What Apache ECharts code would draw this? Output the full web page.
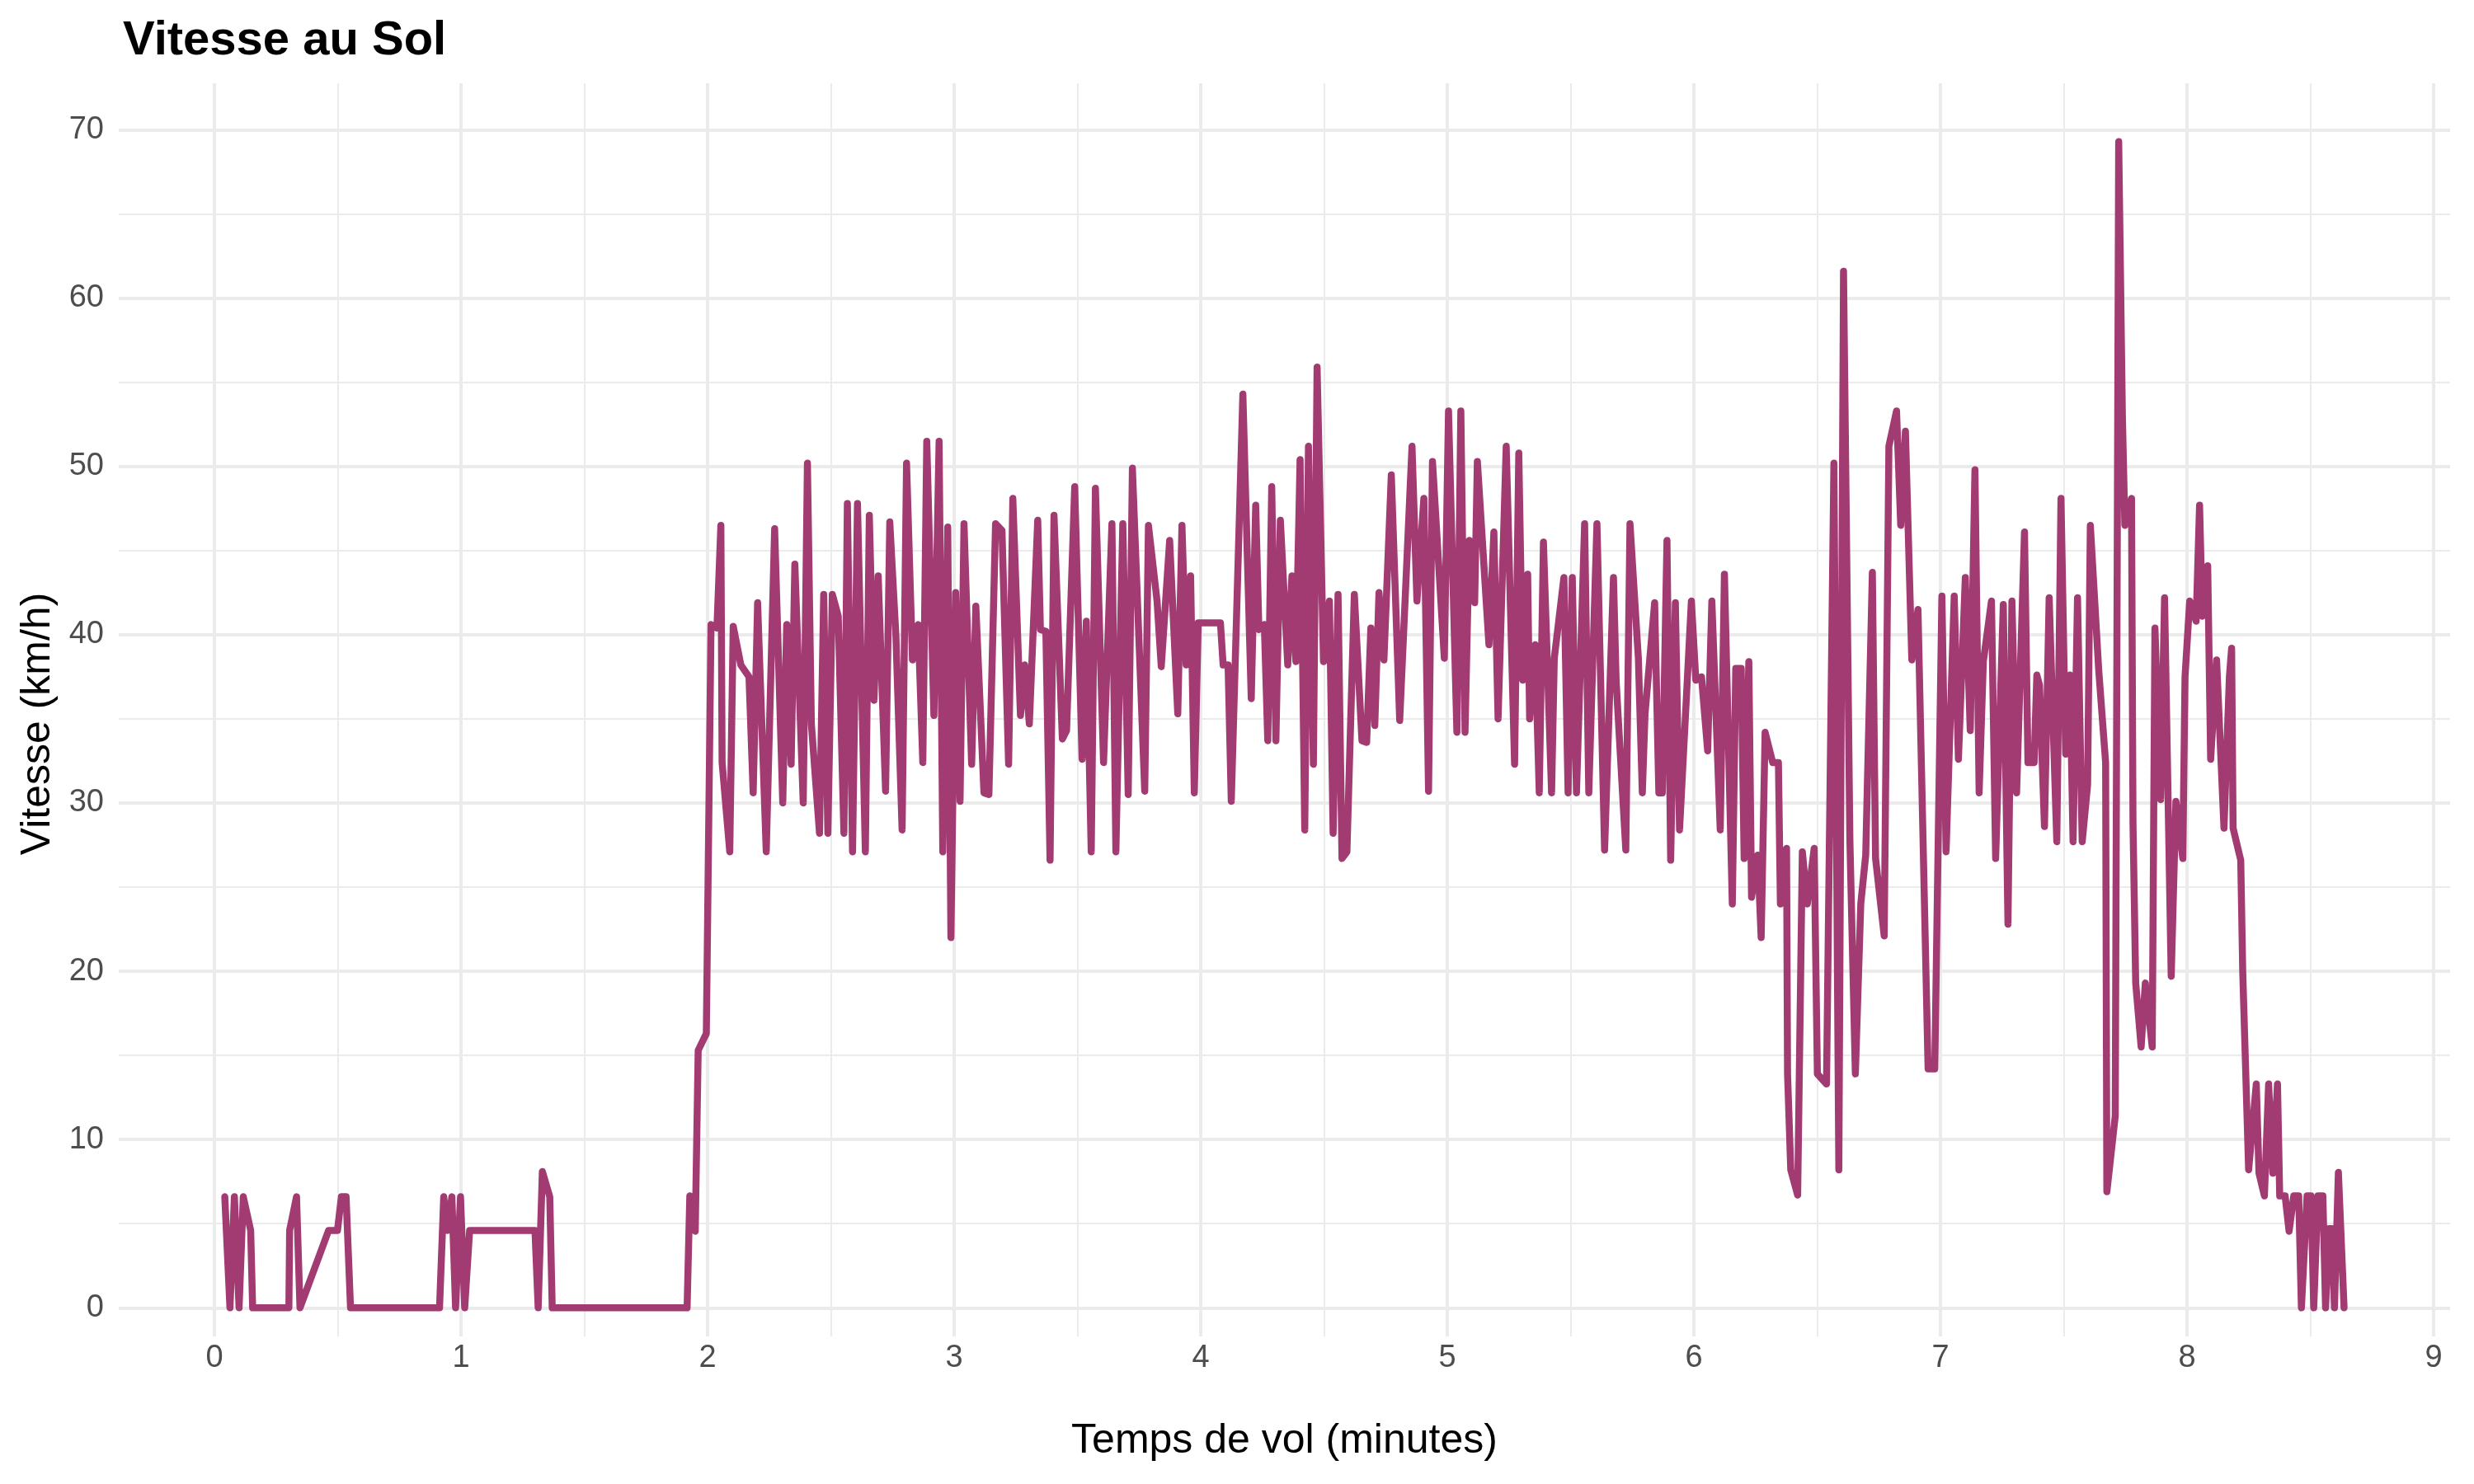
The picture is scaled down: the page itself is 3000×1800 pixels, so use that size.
<!DOCTYPE html>
<html><head><meta charset="utf-8">
<script src="https://cdn.jsdelivr.net/npm/echarts@6/dist/echarts.min.js"></script>
<style>html,body{margin:0;padding:0;background:#fff}#c{width:3000px;height:1800px}</style>
</head><body><div id="c"></div>
<script>
const chartTitle = 'Vitesse au Sol';
const xTitle = 'Temps de vol (minutes)';
const yTitle = 'Vitesse (km/h)';
const timeMin = [
0.042,0.063,0.081,0.100,0.117,0.147,0.155,0.302,0.305,0.333,0.347,0.463,0.499,0.515,0.534,0.552,
0.913,0.930,0.945,0.963,0.978,0.998,1.015,1.035,1.300,1.313,1.330,1.360,1.370,1.917,1.928,1.950,
1.962,1.995,2.014,2.038,2.054,2.059,2.090,2.104,2.135,2.168,2.185,2.203,2.238,2.272,2.305,2.321,
2.339,2.354,2.388,2.405,2.421,2.454,2.471,2.488,2.506,2.530,2.553,2.567,2.588,2.608,2.640,2.656,
2.675,2.692,2.722,2.739,2.764,2.789,2.807,2.831,2.854,2.873,2.889,2.918,2.939,2.954,2.974,2.987,
3.006,3.024,3.040,3.071,3.088,3.121,3.141,3.168,3.194,3.221,3.238,3.269,3.286,3.305,3.339,3.350,
3.372,3.389,3.405,3.439,3.456,3.489,3.519,3.536,3.556,3.573,3.606,3.640,3.656,3.684,3.706,3.723,
3.773,3.788,3.823,3.840,3.874,3.907,3.924,3.941,3.959,3.974,3.990,4.080,4.091,4.111,4.124,4.171,
4.205,4.223,4.236,4.258,4.272,4.288,4.305,4.323,4.353,4.370,4.386,4.403,4.422,4.437,4.457,4.472,
4.498,4.522,4.537,4.557,4.573,4.593,4.623,4.654,4.673,4.690,4.706,4.723,4.743,4.773,4.807,4.857,
4.877,4.905,4.924,4.940,4.988,5.005,5.039,5.055,5.072,5.089,5.111,5.122,5.169,5.189,5.206,5.239,
5.273,5.290,5.306,5.326,5.334,5.356,5.373,5.390,5.423,5.434,5.473,5.490,5.507,5.524,5.557,5.574,
5.607,5.638,5.674,5.685,5.724,5.741,5.775,5.791,5.802,5.841,5.858,5.872,5.891,5.906,5.925,5.942,
5.990,6.008,6.031,6.056,6.073,6.107,6.124,6.156,6.170,6.192,6.204,6.223,6.234,6.259,6.273,6.289,
6.320,6.343,6.351,6.376,6.380,6.393,6.421,6.440,6.460,6.488,6.501,6.538,6.568,6.588,6.607,6.633,
6.655,6.677,6.697,6.724,6.737,6.772,6.791,6.822,6.839,6.858,6.884,6.909,6.950,6.977,7.006,7.023,
7.056,7.073,7.101,7.121,7.140,7.157,7.174,7.207,7.224,7.255,7.274,7.290,7.309,7.341,7.355,7.380,
7.391,7.402,7.422,7.441,7.472,7.489,7.508,7.525,7.538,7.556,7.575,7.597,7.608,7.642,7.670,7.675,
7.709,7.723,7.738,7.748,7.775,7.781,7.792,7.814,7.831,7.859,7.870,7.893,7.909,7.936,7.955,7.983,
7.992,8.011,8.037,8.051,8.062,8.084,8.096,8.120,8.150,8.172,8.181,8.187,8.218,8.226,8.250,8.281,
8.292,8.314,8.331,8.348,8.367,8.376,8.398,8.414,8.433,8.453,8.464,8.487,8.503,8.514,8.531,8.551,
8.562,8.576,8.587,8.598,8.614,8.637
];
const speedKmh = [
6.6,0,6.6,0,6.6,4.6,0,0,4.6,6.6,0,4.6,4.6,6.6,6.6,0,
0,6.6,4.6,6.6,0,6.6,0,4.6,4.6,0,8.1,6.6,0,0,6.65,4.55,
15.3,16.3,40.6,40.4,46.5,32.4,27.1,40.5,38.2,37.5,30.6,41.9,27.1,46.3,30.0,40.6,
32.3,44.2,30.0,50.2,34.7,28.2,42.4,28.2,42.4,41.1,28.2,47.8,27.1,47.8,27.1,47.1,
36.1,43.5,30.7,46.7,39.9,28.4,50.2,38.5,40.6,32.4,51.5,35.2,51.5,27.1,46.4,22.0,
42.5,30.1,46.6,32.3,41.7,30.6,30.5,46.6,46.2,32.3,48.1,35.2,38.2,34.7,46.8,40.3,
40.2,26.6,47.1,33.8,34.3,48.8,32.6,40.8,27.1,48.7,32.4,46.6,27.1,46.6,30.5,49.9,
30.7,46.5,42.0,38.1,45.6,35.3,46.5,38.2,43.5,30.6,40.7,40.7,38.2,38.2,30.1,54.3,
36.2,47.7,40.3,40.6,33.7,48.8,33.7,46.8,38.2,43.5,38.4,50.4,28.4,51.2,32.3,55.9,
38.4,42.0,28.2,42.4,26.7,27.1,42.4,33.7,33.6,40.4,34.6,42.5,38.5,49.5,34.9,51.2,
42.0,48.1,30.7,50.3,38.6,53.3,34.2,53.3,34.2,45.6,41.9,50.3,39.4,46.1,35.0,51.2,
32.3,50.8,37.3,43.6,35.0,39.4,30.6,45.5,30.6,38.6,43.4,30.6,43.4,30.6,46.6,30.6,
46.6,27.2,43.4,37.2,27.2,46.6,38.6,30.6,35.3,41.9,30.6,30.6,45.6,26.6,41.9,28.4,
42.0,37.3,37.5,33.1,42.0,28.4,43.6,24.0,38.0,38.0,26.7,38.4,24.4,26.9,22.0,34.2,
32.4,32.4,24.0,27.3,13.9,8.2,6.7,27.1,24.0,27.3,13.9,13.3,50.2,8.2,61.6,27.7,
13.9,24.0,26.9,43.7,26.7,22.1,51.2,53.3,46.5,52.1,38.5,41.5,14.2,14.2,42.3,27.1,
42.3,32.6,43.4,34.3,49.8,30.6,38.4,42.0,26.7,41.8,22.8,42.0,30.6,46.1,32.4,32.4,
37.6,37.0,28.6,42.2,27.7,48.1,32.9,37.6,27.7,42.2,27.7,31.1,46.5,37.9,32.4,6.9,
11.4,69.3,53.0,46.5,48.1,28.8,19.3,15.5,19.3,15.5,40.4,30.2,42.2,19.7,30.1,26.7,
37.5,42.0,40.8,47.7,41.1,44.1,32.6,38.5,28.5,37.5,39.2,28.5,26.6,20.0,8.2,13.3,
8.0,6.65,13.3,8.0,13.3,6.65,6.65,4.55,6.65,6.65,0,6.65,6.65,0,6.65,6.65,
0,4.7,4.7,0,8.05,0
];
const xRange = [-0.388, 9.067];
const yRange = [-1.7, 72.77];

const chart = echarts.init(document.getElementById('c'), null, {renderer: 'canvas'});
const pts = timeMin.map((t, i) => [t, speedKmh[i]]);
const FONT = 'Liberation Sans, Arial, Helvetica, sans-serif';
const gridMajor = {show: true, showMinLine: false, showMaxLine: false, lineStyle: {color: '#EBEBEB', width: 4}};
const gridMinor = {show: true, lineStyle: {color: '#EBEBEB', width: 2}};
chart.setOption({
  backgroundColor: '#ffffff',
  animation: false,
  title: {
    text: chartTitle, left: 144, top: 16,
    textStyle: {fontFamily: FONT, fontWeight: 'bold', fontSize: 58, color: '#000000'}
  },
  grid: {left: 144, right: 29, top: 101, bottom: 179, containLabel: false},
  xAxis: {
    type: 'value', min: xRange[0], max: xRange[1], minInterval: 1, maxInterval: 1,
    name: xTitle, nameLocation: 'middle', nameGap: 102,
    nameTextStyle: {fontFamily: FONT, fontSize: 50, color: '#000000'},
    axisLine: {show: false}, axisTick: {show: false},
    axisLabel: {showMinLabel: false, showMaxLabel: false, margin: 8, fontFamily: FONT, fontSize: 38, color: '#4D4D4D'},
    splitLine: gridMajor,
    minorTick: {show: false, splitNumber: 2},
    minorSplitLine: gridMinor
  },
  yAxis: {
    type: 'value', min: yRange[0], max: yRange[1], minInterval: 10, maxInterval: 10,
    name: yTitle, nameLocation: 'middle', nameGap: 73, nameRotate: 90,
    nameTextStyle: {fontFamily: FONT, fontSize: 50, color: '#000000', padding: [0, 34, 0, 0]},
    axisLine: {show: false}, axisTick: {show: false},
    axisLabel: {showMinLabel: false, showMaxLabel: false, margin: 18, fontFamily: FONT, fontSize: 38, color: '#4D4D4D'},
    splitLine: gridMajor,
    minorTick: {show: false, splitNumber: 2},
    minorSplitLine: gridMinor
  },
  series: [{
    type: 'line', data: pts, showSymbol: false, smooth: false,
    lineStyle: {color: '#A23B72', width: 8.5, cap: 'round', join: 'round'},
    clip: true
  }]
});
</script></body></html>
